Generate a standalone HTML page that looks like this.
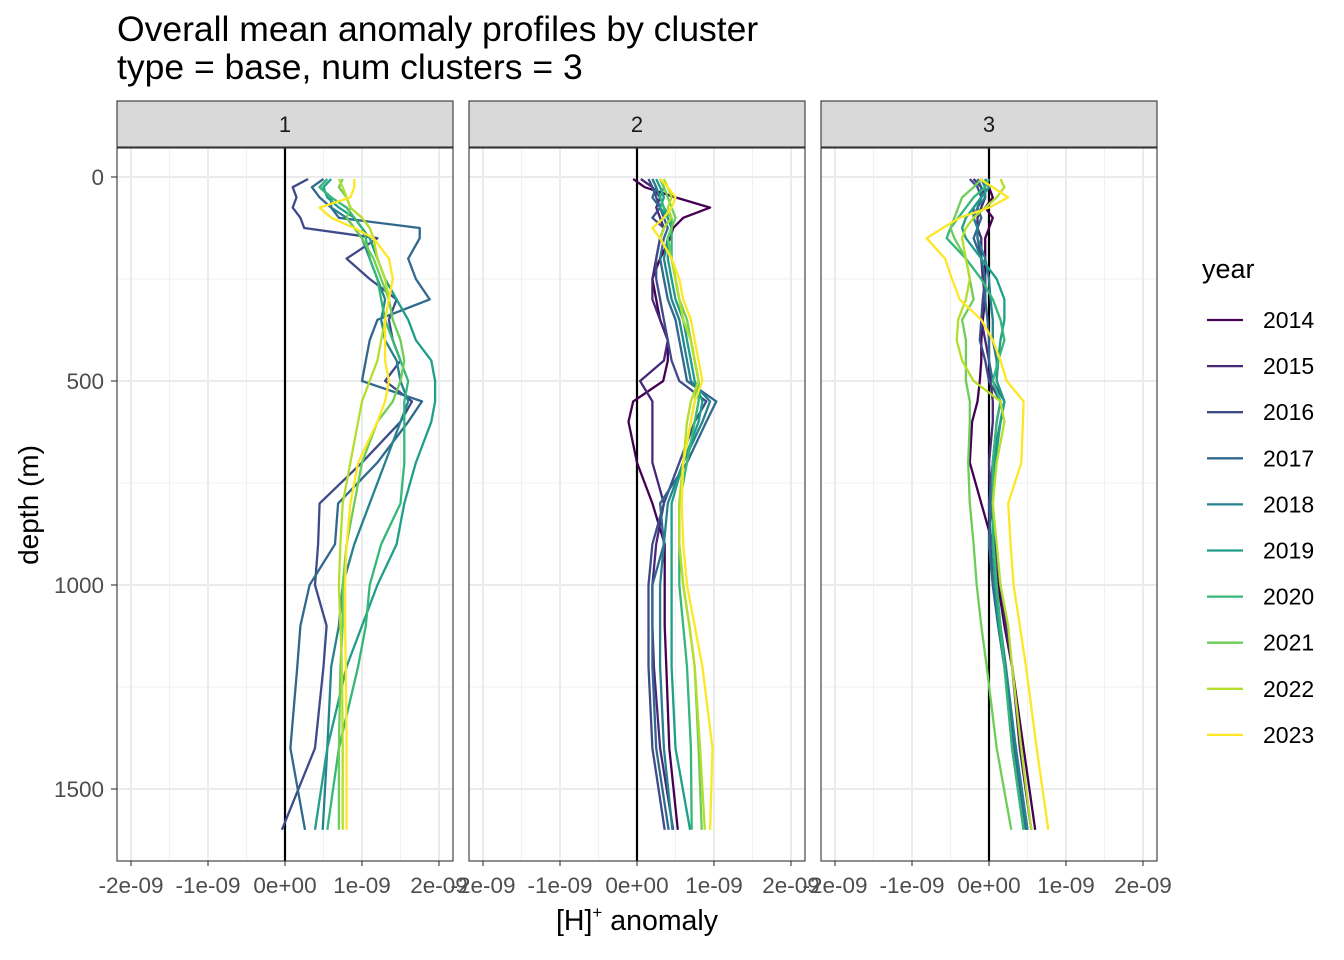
<!DOCTYPE html>
<html><head><meta charset="utf-8">
<style>
html,body{margin:0;padding:0;background:#fff;}
svg{display:block;font-family:"Liberation Sans",sans-serif;}
</style></head>
<body>
<svg id="chart" width="1344" height="960" viewBox="0 0 1344 960">
<text x="117" y="41" font-size="35.5" fill="#000">Overall mean anomaly profiles by cluster</text>
<text x="117" y="79" font-size="35.5" fill="#000">type = base, num clusters = 3</text>
<text transform="translate(38,505) rotate(-90)" text-anchor="middle" font-size="28" fill="#000">depth (m)</text>
<text x="637" y="930" text-anchor="middle" font-size="28.5" fill="#000">[H]<tspan font-size="17" dy="-12">+</tspan><tspan dy="12"> anomaly</tspan></text>
<g id="panels"></g>
<g id="legend"></g>
</svg>
<script>
const depths = [5,25,50,75,100,125,150,200,250,300,350,400,450,500,550,600,700,800,900,1000,1100,1200,1400,1600];
const years = [2014,2015,2016,2017,2018,2019,2020,2021,2022,2023];
const colors = ["#440154","#482878","#3E4A89","#31688E","#26828E","#1F9E89","#35B779","#6DCD59","#B4DE2C","#FDE725"];
const clusters = ["1","2","3"];
const xTickValues = [-2,-1,0,1,2];
const xTickLabels = ["-2e-09","-1e-09","0e+00","1e-09","2e-09"];
const yTickValues = [0,500,1000,1500];
const yTickLabels = ["0","500","1000","1500"];

const c1_2016 = [0.3,0.1,0.15,0.1,0.2,0.25,1.2,0.8,1.1,1.45,1.35,1.4,1.5,1.3,1.65,1.5,1.0,0.45,0.43,0.39,0.54,0.5,0.39,-0.04];
const c1_2017 = [0.5,0.35,0.45,0.6,0.7,1.75,1.75,1.6,1.7,1.88,1.2,1.1,1.05,1.0,1.78,1.6,1.2,0.69,0.65,0.32,0.2,0.16,0.07,0.26];
const c1_2018 = [0.55,0.45,0.6,0.6,0.8,0.9,1.0,1.1,1.2,1.3,1.25,1.3,1.45,1.5,1.6,1.5,1.3,1.1,0.9,0.75,0.7,0.6,0.55,0.49];
const c1_2019 = [0.6,0.5,0.55,0.7,0.9,1.0,1.1,1.2,1.3,1.45,1.6,1.7,1.9,1.95,1.95,1.9,1.7,1.55,1.45,1.2,1.0,0.8,0.55,0.39];
const c1_2020 = [0.55,0.45,0.6,0.8,0.9,1.0,1.05,1.1,1.2,1.25,1.3,1.4,1.5,1.6,1.55,1.55,1.55,1.5,1.25,1.1,1.05,0.95,0.7,0.55];
const c1_2021 = [0.75,0.7,0.8,0.85,0.8,0.9,1.0,1.15,1.25,1.35,1.4,1.5,1.55,1.5,1.4,1.2,1.0,0.9,0.8,0.75,0.75,0.72,0.7,0.7];
const c1_2022 = [0.7,0.75,0.8,0.85,1.0,1.1,1.15,1.2,1.3,1.35,1.3,1.25,1.2,1.1,1.0,0.95,0.85,0.75,0.72,0.7,0.72,0.74,0.75,0.75];
const c1_2023 = [0.9,0.9,0.85,0.45,0.6,0.9,1.15,1.35,1.4,1.35,1.3,1.3,1.3,1.35,1.3,1.2,0.95,0.85,0.8,0.78,0.78,0.79,0.8,0.8];

const c2_2014 = [-0.05,0.1,0.5,0.95,0.6,0.47,0.43,0.3,0.2,0.25,0.3,0.4,0.4,0.34,-0.05,-0.11,0.0,0.2,0.36,0.36,0.36,0.38,0.42,0.53];
const c2_2015 = [0.05,0.2,0.3,0.25,0.3,0.35,0.3,0.25,0.2,0.2,0.3,0.4,0.35,0.04,0.2,0.2,0.2,0.35,0.25,0.2,0.2,0.22,0.3,0.47];
const c2_2016 = [0.15,0.2,0.25,0.3,0.2,0.35,0.3,0.25,0.25,0.3,0.35,0.4,0.45,0.55,0.9,0.75,0.55,0.35,0.2,0.15,0.15,0.15,0.2,0.36];
const c2_2017 = [0.2,0.25,0.2,0.3,0.35,0.4,0.35,0.3,0.35,0.4,0.5,0.55,0.6,0.65,1.03,0.9,0.65,0.3,0.35,0.2,0.2,0.2,0.25,0.41];
const c2_2018 = [0.2,0.25,0.3,0.35,0.4,0.45,0.4,0.35,0.4,0.45,0.55,0.6,0.65,0.7,0.95,0.85,0.6,0.4,0.35,0.3,0.3,0.3,0.35,0.46];
const c2_2019 = [0.25,0.3,0.35,0.3,0.4,0.45,0.4,0.4,0.45,0.5,0.6,0.65,0.7,0.75,0.85,0.8,0.6,0.45,0.45,0.45,0.45,0.45,0.5,0.69];
const c2_2020 = [0.3,0.35,0.3,0.35,0.45,0.45,0.45,0.45,0.5,0.55,0.6,0.7,0.75,0.8,0.8,0.75,0.65,0.55,0.55,0.55,0.6,0.65,0.7,0.71];
const c2_2021 = [0.3,0.35,0.4,0.45,0.5,0.45,0.4,0.45,0.5,0.55,0.65,0.7,0.75,0.8,0.75,0.7,0.6,0.55,0.55,0.6,0.68,0.75,0.8,0.84];
const c2_2022 = [0.35,0.4,0.45,0.4,0.45,0.35,0.3,0.45,0.5,0.55,0.6,0.7,0.75,0.8,0.7,0.65,0.6,0.55,0.55,0.6,0.68,0.75,0.82,0.88];
const c2_2023 = [0.3,0.4,0.5,0.45,0.35,0.2,0.3,0.45,0.55,0.6,0.7,0.75,0.8,0.85,0.75,0.7,0.6,0.58,0.6,0.65,0.75,0.85,0.98,0.95];

const c3_2014 = [-0.05,0,0.05,-0.05,0.05,0,-0.05,-0.05,-0.05,-0.05,-0.08,-0.1,-0.1,-0.12,-0.15,-0.22,-0.25,-0.1,0.05,0.12,0.2,0.3,0.45,0.6];
const c3_2015 = [-0.2,-0.1,-0.05,-0.1,-0.15,-0.15,-0.1,-0.1,-0.08,-0.05,-0.1,-0.05,0.0,0.02,0.05,0.05,0.0,0.02,0.08,0.15,0.22,0.3,0.4,0.55];
const c3_2016 = [-0.25,-0.15,-0.1,-0.2,-0.2,-0.15,-0.15,-0.1,-0.05,-0.08,-0.1,-0.12,-0.05,0.0,0.15,0.1,0.05,0.0,0.02,0.05,0.12,0.2,0.35,0.5];
const c3_2017 = [-0.15,-0.1,-0.1,-0.15,-0.1,-0.15,-0.2,-0.1,-0.05,-0.05,-0.02,0.0,0.0,0.05,0.2,0.15,0.05,0.02,0.0,0.05,0.12,0.2,0.33,0.48];
const c3_2018 = [-0.1,-0.05,-0.05,-0.15,-0.2,-0.15,-0.15,-0.05,0.0,0.02,0.05,0.05,0.1,0.1,0.2,0.15,0.05,0.05,0.05,0.08,0.15,0.22,0.35,0.5];
const c3_2019 = [-0.05,0.0,-0.1,-0.2,-0.3,-0.35,-0.3,-0.1,0.1,0.2,0.2,0.15,0.12,0.1,0.2,0.15,0.08,0.05,0.05,0.08,0.13,0.2,0.3,0.45];
const c3_2020 = [0.0,-0.05,-0.2,-0.3,-0.4,-0.5,-0.55,-0.3,-0.1,0.05,0.15,0.2,0.12,0.05,0.15,0.1,0.05,0.05,0.06,0.1,0.15,0.2,0.3,0.45];
const c3_2021 = [-0.1,-0.2,-0.35,-0.4,-0.45,-0.5,-0.45,-0.3,-0.25,-0.2,-0.35,-0.3,-0.3,-0.3,-0.25,-0.25,-0.27,-0.25,-0.2,-0.16,-0.1,-0.03,0.1,0.29];
const c3_2022 = [0.15,0.2,0.1,-0.05,-0.2,-0.3,-0.35,-0.3,-0.25,-0.3,-0.4,-0.42,-0.35,-0.2,0.15,0.2,0.1,0.05,0.1,0.15,0.25,0.3,0.42,0.55];
const c3_2023 = [-0.12,0.05,0.25,0.0,-0.38,-0.6,-0.81,-0.57,-0.48,-0.38,-0.1,0.05,0.15,0.23,0.45,0.44,0.42,0.25,0.28,0.32,0.4,0.48,0.62,0.77];

const series = [
  [null,null,c1_2016,c1_2017,c1_2018,c1_2019,c1_2020,c1_2021,c1_2022,c1_2023],
  [c2_2014,c2_2015,c2_2016,c2_2017,c2_2018,c2_2019,c2_2020,c2_2021,c2_2022,c2_2023],
  [c3_2014,c3_2015,c3_2016,c3_2017,c3_2018,c3_2019,c3_2020,c3_2021,c3_2022,c3_2023]
];

const NS = "http://www.w3.org/2000/svg";
function mk(tag, attrs, parent){const e=document.createElementNS(NS,tag);for(const k in attrs)e.setAttribute(k,attrs[k]);parent.appendChild(e);return e;}
const panelLeft = [117,469,821], panelW = 336, plotTop = 148, plotBottom = 861;
const xMin = -2.182, xMax = 2.182;
function yScale(d){return 177 + d*0.408;}
function xScale(p,v){return panelLeft[p] + (v-xMin)/(xMax-xMin)*panelW;}
const panels = document.getElementById('panels');

for(let p=0;p<3;p++){
  const g = mk('g',{},panels);
  
  
  const L = panelLeft[p], R = L+panelW;
  const strip = mk('rect',{x:L,y:101,width:panelW,height:46,fill:'#d9d9d9',stroke:'#333','stroke-width':1.1},g);
  
  
  const st = mk('text',{x:L+panelW/2,y:132,'text-anchor':'middle','font-size':22,fill:'#1a1a1a'},g);
  st.textContent = clusters[p];
  
  
  for(let v=-1.5; v<=1.5; v+=1){
    mk('line',{x1:xScale(p,v),x2:xScale(p,v),y1:plotTop,y2:plotBottom,stroke:'#f0f0f0','stroke-width':1},g);
  }
  for(const d of [250,750,1250]){
    mk('line',{x1:L,x2:R,y1:yScale(d),y2:yScale(d),stroke:'#f0f0f0','stroke-width':1},g);
  }
  xTickValues.forEach(v=>{
    mk('line',{x1:xScale(p,v),x2:xScale(p,v),y1:plotTop,y2:plotBottom,stroke:'#ebebeb','stroke-width':2},g);
  });
  yTickValues.forEach(d=>{
    mk('line',{x1:L,x2:R,y1:yScale(d),y2:yScale(d),stroke:'#ebebeb','stroke-width':2},g);
  });
  const z = mk('line',{x1:xScale(p,0),x2:xScale(p,0),y1:plotTop,y2:plotBottom,stroke:'#000','stroke-width':2.2},g);
  
  
  series[p].forEach((vals,i)=>{
    if(!vals) return;
    const pts = vals.map((v,k)=>xScale(p,v).toFixed(1)+','+yScale(depths[k]).toFixed(1)).join(' ');
    const pl = mk('polyline',{points:pts,fill:'none',stroke:colors[i],'stroke-width':2.3,'stroke-linejoin':'round'},g);
    
    
  });
  mk('rect',{x:L,y:plotTop,width:panelW,height:plotBottom-plotTop,fill:'none',stroke:'#333','stroke-width':1.1},g);
  xTickValues.forEach((v,k)=>{
    const x = xScale(p,v);
    mk('line',{x1:x,x2:x,y1:plotBottom,y2:plotBottom+5,stroke:'#333','stroke-width':1.1},g);
    const t = mk('text',{x:x,y:893,'text-anchor':'middle','font-size':22.5,fill:'#4d4d4d'},g);
    t.textContent = xTickLabels[k];
    
    
  });
}
const yg = mk('g',{},panels);


yTickValues.forEach((d,k)=>{
  const y = yScale(d);
  mk('line',{x1:111,x2:117,y1:y,y2:y,stroke:'#333','stroke-width':1.1},yg);
  const t = mk('text',{x:104,y:y+8,'text-anchor':'end','font-size':22.5,fill:'#4d4d4d'},yg);
  t.textContent = yTickLabels[k];
  
  
});
const lg = document.getElementById('legend');


const lt = mk('text',{x:1202,y:278,'font-size':27,fill:'#000'},lg);
lt.textContent = 'year';


years.forEach((yr,i)=>{
  const y = 320 + i*46.1;
  const e = mk('g',{},lg);
  
  
  mk('line',{x1:1207,x2:1243,y1:y,y2:y,stroke:colors[i],'stroke-width':2.3},e);
  const t = mk('text',{x:1263,y:y+8,'font-size':23,fill:'#000'},e);
  t.textContent = yr;
});
</script>
</body></html>
